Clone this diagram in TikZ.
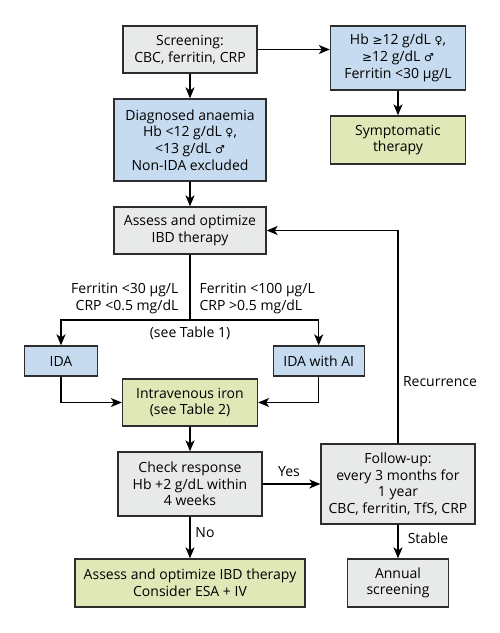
\documentclass[tikz,border=0pt]{standalone}
\usepackage{fontspec}
\setmainfont{Open Sans}
\newfontfamily\symfont{DejaVu Sans}
\usetikzlibrary{arrows.meta}
\newcommand{\femsym}{{\symfont\fontsize{11}{11}\selectfont\char"2640}}
\newcommand{\malsym}{{\symfont\fontsize{11}{11}\selectfont\char"2642}}
\newcommand{\geqsym}{{\symfont\fontsize{12}{12}\selectfont\char"2265}}
\definecolor{boxgray}{RGB}{232,233,233}
\definecolor{boxblue}{RGB}{198,219,239}
\definecolor{boxgreen}{RGB}{224,232,184}
\definecolor{edgegray}{RGB}{45,45,45}
\tikzset{every picture/.style={line width=1.3pt}}
\tikzset{
  box/.style={draw=edgegray, align=center, inner sep=0pt,
    font=\fontsize{14}{16.7}\selectfont},
  graybox/.style={box, fill=boxgray},
  bluebox/.style={box, fill=boxblue},
  greenbox/.style={box, fill=boxgreen},
  lbl/.style={inner sep=0pt, font=\fontsize{14}{16.7}\selectfont},
  link/.style={draw=black, ->, >={Stealth[length=11pt,width=9pt,inset=3pt]}}
}
\begin{document}
\begin{tikzpicture}[x=1pt,y=1pt,yscale=-1,xscale=1]
        \useasboundingbox (0,0) rectangle (500,633);
        % boxes
        \node [graybox, minimum width=134pt, minimum height=47pt] (screen) at (190,49.5) {Screening:\\CBC, ferritin, CRP};
        \node [bluebox, minimum width=135pt, minimum height=64pt] (hbok) at (398,58) {Hb \geqsym12 g/dL \femsym,\\\geqsym12 g/dL \malsym\\Ferritin <30 µg/L};
        \node [bluebox, minimum width=152pt, minimum height=82pt] (diag) at (190,140) {Diagnosed anaemia\\Hb <12 g/dL \femsym,\\<13 g/dL \malsym\\Non-IDA excluded};
        \node [greenbox, minimum width=135pt, minimum height=48pt] (sympt) at (398,140) {Symptomatic\\therapy};
        \node [graybox, minimum width=152pt, minimum height=47pt] (assess) at (190,230.5) {Assess and optimize\\IBD therapy};
        \node [bluebox, minimum width=73pt, minimum height=30pt] (ida) at (61,361) {IDA};
        \node [bluebox, minimum width=91pt, minimum height=30pt] (idaai) at (318.7,361) {IDA with AI};
        \node [greenbox, minimum width=135pt, minimum height=47pt] (iviron) at (190,402.5) {Intravenous iron\\(see Table 2)};
        \node [graybox, minimum width=144pt, minimum height=64pt] (check) at (190,484) {Check response\\Hb +2 g/dL within\\4 weeks};
        \node [graybox, minimum width=154pt, minimum height=80pt] (follow) at (398,484) {Follow-up:\\every 3 months for\\1 year\\CBC, ferritin, TfS, CRP};
        \node [greenbox, minimum width=230pt, minimum height=48pt] (assess2) at (190,583) {Assess and optimize IBD therapy\\Consider ESA + IV};
        \node [graybox, minimum width=101pt, minimum height=48pt] (annual) at (398,583) {Annual\\screening};
        \coordinate (split) at (190,320);
        % connectors
        \draw [link] (screen) -- (diag);
        \draw [link] (screen.east) -- (screen.east -| hbok.west);
        \draw [link] (hbok) -- (sympt);
        \draw [link] (diag) -- (assess);
        \draw (assess.south) -- (split);
        \draw [link] (split) -| (ida.north);
        \draw [link] (split) -| (idaai.north);
        \draw [link] (ida.south) |- (iviron.west);
        \draw [link] (idaai.south) |- (iviron.east);
        \draw [link] (iviron) -- (check);
        \draw [link] (check.east) -- (follow.west |- check.east);
        \draw [link] (check) -- (assess2);
        \draw [link] (follow) -- (annual);
        \draw [link] (follow.north) |- (assess.east);
        % labels
        \node [lbl, anchor=east, align=right] (lowlbl) at (179,298.5) {Ferritin <30 µg/L\\CRP <0.5 mg/dL};
        \node [lbl, anchor=west, align=left] (highlbl) at (199,298.5) {Ferritin <100 µg/L\\CRP >0.5 mg/dL};
        \node [lbl] (tablelbl) at (190,333) {(see Table 1)};
        \node [lbl] (reclbl) at (440,381.7) {Recurrence};
        \node [lbl] (yeslbl) at (289,471.7) {Yes};
        \node [lbl] (nolbl) at (205,532.7) {No};
        \node [lbl] (stablelbl) at (428,538) {Stable};
\end{tikzpicture}
\end{document}
